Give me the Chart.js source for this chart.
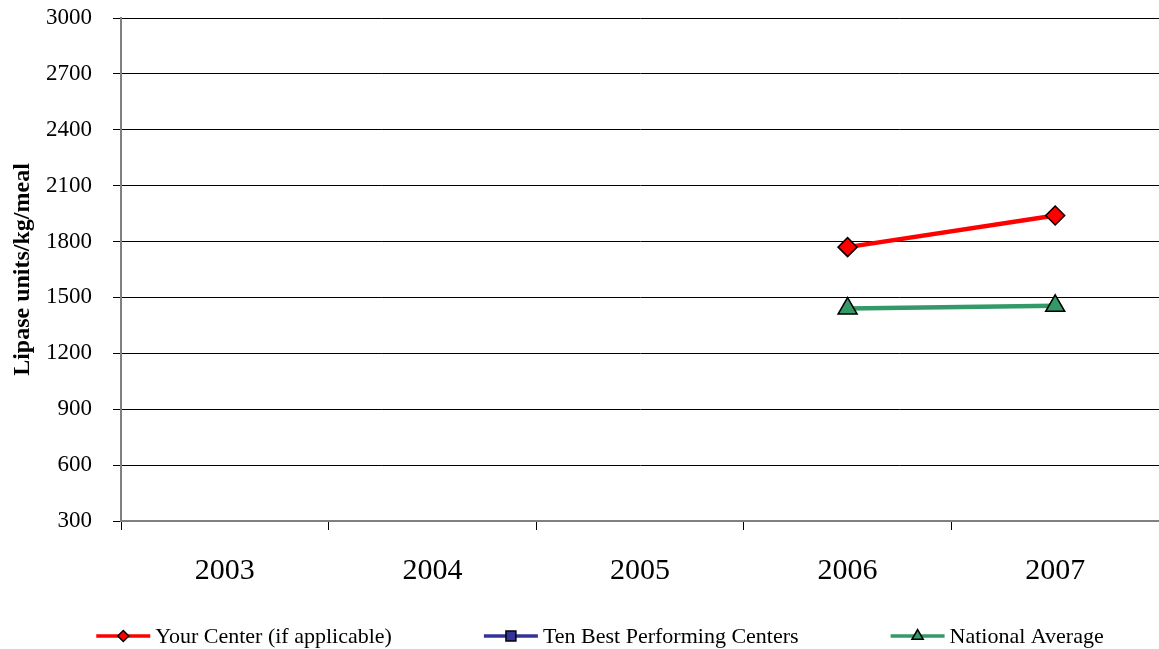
<!DOCTYPE html>
<html>
<head>
<meta charset="utf-8">
<script src="https://cdn.jsdelivr.net/npm/chart.js@4/dist/chart.umd.min.js"></script>
<style>
  html, body { margin: 0; padding: 0; background: #ffffff; }
  #wrap { width: 1159px; height: 649px; }
</style>
</head>
<body>
<div id="wrap"><canvas id="c" width="1159" height="649"></canvas></div>
<script>
const years = ['2003', '2004', '2005', '2006', '2007'];
const yourCenter = [null, null, null, 1770, 1940];
const tenBest = [null, null, null, null, null];
const nationalAvg = [null, null, null, 1440, 1455];
const yTickValues = [300, 600, 900, 1200, 1500, 1800, 2100, 2400, 2700, 3000];
const yTitle = 'Lipase units/kg/meal';
const seriesNames = ['Your Center (if applicable)', 'Ten Best Performing Centers', 'National Average'];

const SERIF = '"Liberation Serif", "Times New Roman", serif';

const legendPlugin = {
  id: 'excelLegend',
  afterDraw(chart) {
    const ctx = chart.ctx;
    const y = 636;
    const lineLen = 54, gapText = 5, gapItem = 92;
    ctx.save();
    ctx.font = '22px ' + SERIF;
    const items = chart.data.datasets.map(ds => ({
      ds, w: lineLen + gapText + ctx.measureText(ds.label).width
    }));
    const total = items.reduce((a, it) => a + it.w, 0) + gapItem * (items.length - 1);
    let x = 600 - total / 2;
    items.forEach(it => {
      const ds = it.ds;
      ctx.strokeStyle = ds.borderColor;
      ctx.lineWidth = 3.5;
      ctx.beginPath();
      ctx.moveTo(x, y);
      ctx.lineTo(x + lineLen, y);
      ctx.stroke();
      ctx.fillStyle = ds.pointBackgroundColor;
      ctx.strokeStyle = '#000';
      ctx.lineWidth = 1.5;
      Chart.helpers.drawPoint(ctx, {
        pointStyle: ds.pointStyle,
        rotation: 0,
        radius: ds.pointStyle === 'rect' ? 7 : (ds.pointStyle === 'triangle' ? 6.5 : 5.5),
        borderWidth: 1.5
      }, x + lineLen / 2, y);
      ctx.fillStyle = '#000';
      ctx.textBaseline = 'middle';
      ctx.textAlign = 'left';
      ctx.fillText(ds.label, x + lineLen + gapText, y + 1);
      x += it.w + gapItem;
    });
    ctx.restore();
  }
};

new Chart(document.getElementById('c'), {
  type: 'line',
  data: {
    labels: years,
    datasets: [
      {
        label: seriesNames[0],
        data: yourCenter,
        borderColor: '#FF0000',
        backgroundColor: '#FF0000',
        pointBackgroundColor: '#FF0000',
        pointBorderColor: '#000000',
        pointBorderWidth: 1.5,
        pointStyle: 'rectRot',
        pointRadius: 9.5,
        borderWidth: 4.5,
        tension: 0
      },
      {
        label: seriesNames[1],
        data: tenBest,
        borderColor: '#333399',
        backgroundColor: '#333399',
        pointBackgroundColor: '#333399',
        pointBorderColor: '#000000',
        pointBorderWidth: 1.5,
        pointStyle: 'rect',
        pointRadius: 9,
        borderWidth: 4.5,
        tension: 0
      },
      {
        label: seriesNames[2],
        data: nationalAvg,
        borderColor: '#339966',
        backgroundColor: '#339966',
        pointBackgroundColor: '#339966',
        pointBorderColor: '#000000',
        pointBorderWidth: 1.5,
        pointStyle: 'triangle',
        pointRadius: 11,
        borderWidth: 4.5,
        tension: 0
      }
    ]
  },
  options: {
    responsive: false,
    animation: false,
    layout: { autoPadding: false, padding: { top: 18, right: 0, bottom: 0, left: 0 } },
    plugins: {
      legend: { display: false },
      tooltip: { enabled: false },
      title: { display: false }
    },
    scales: {
      x: {
        type: 'category',
        offset: true,
        afterFit(scale) {
          scale.height = 128;
          scale.paddingLeft = 0;
          scale.paddingRight = 0;
        },
        grid: {
          offset: true,
          drawOnChartArea: false,
          drawTicks: true,
          tickLength: 9,
          tickColor: '#000000',
          color: '#000000'
        },
        border: { display: true, color: '#808080', width: 2 },
        ticks: {
          color: '#000000',
          font: { family: SERIF, size: 30 },
          padding: 23,
          maxRotation: 0,
          autoSkip: false
        }
      },
      y: {
        min: 300,
        max: 3000,
        afterFit(scale) {
          scale.width = 121;
          scale.paddingTop = 0;
          scale.paddingBottom = 0;
        },
        afterBuildTicks(scale) { scale.ticks = yTickValues.map(v => ({ value: v })); },
        grid: {
          color: '#000000',
          lineWidth: 1,
          drawTicks: true,
          tickLength: 8,
          tickColor: '#000000'
        },
        border: { display: true, color: '#808080', width: 2 },
        ticks: {
          color: '#000000',
          font: { family: SERIF, size: 23 },
          padding: 21,
          callback: (v) => String(v)
        },
        title: {
          display: true,
          text: yTitle,
          color: '#000000',
          font: { family: SERIF, size: 24, weight: 'bold' },
          padding: { top: 8, bottom: 0 }
        }
      }
    }
  },
  plugins: [legendPlugin]
});
</script>
</body>
</html>
